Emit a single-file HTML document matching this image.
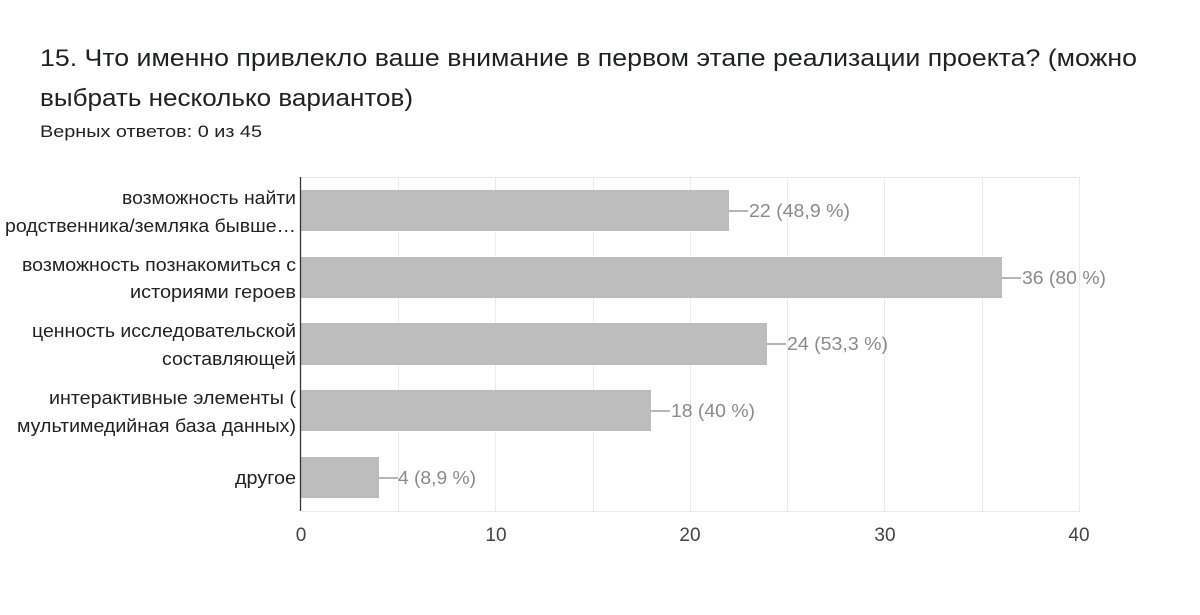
<!DOCTYPE html><html><head><meta charset="utf-8"><style>body{margin:0;background:#fff;width:1200px;height:610px;overflow:hidden;font-family:"Liberation Sans",sans-serif}</style></head><body>
<svg width="1200" height="610" xmlns="http://www.w3.org/2000/svg" font-family="Liberation Sans, sans-serif">
<text x="40" y="66" font-size="24" fill="#202124" textLength="1097" lengthAdjust="spacingAndGlyphs">15. Что именно привлекло ваше внимание в первом этапе реализации проекта? (можно</text>
<text x="40" y="106" font-size="24" fill="#202124" textLength="373" lengthAdjust="spacingAndGlyphs">выбрать несколько вариантов)</text>
<text x="40" y="137" font-size="17" fill="#202124" textLength="222" lengthAdjust="spacingAndGlyphs">Верных ответов: 0 из 45</text>
<g stroke="#ebebeb" stroke-width="1">
<line x1="301" y1="177.5" x2="1080" y2="177.5"/><line x1="301" y1="511.5" x2="1080" y2="511.5"/>
<line x1="398.5" y1="177" x2="398.5" y2="511"/><line x1="495.5" y1="177" x2="495.5" y2="511"/><line x1="593.5" y1="177" x2="593.5" y2="511"/><line x1="690.5" y1="177" x2="690.5" y2="511"/><line x1="787.5" y1="177" x2="787.5" y2="511"/><line x1="884.5" y1="177" x2="884.5" y2="511"/><line x1="982.5" y1="177" x2="982.5" y2="511"/><line x1="1079.5" y1="177" x2="1079.5" y2="511"/>
</g>
<g fill="#bdbdbd">
<rect x="301" y="190" width="428" height="41"/>
<rect x="301" y="257" width="701" height="41"/>
<rect x="301" y="323" width="466" height="42"/>
<rect x="301" y="390" width="350" height="41"/>
<rect x="301" y="457" width="78" height="41"/>
</g>
<line x1="300.5" y1="177" x2="300.5" y2="511" stroke="#333" stroke-width="1.3"/>
<g stroke="#9e9e9e" stroke-width="1.5">
<line x1="729" y1="211" x2="748" y2="211"/><line x1="1002" y1="278" x2="1021" y2="278"/><line x1="767" y1="344" x2="786" y2="344"/><line x1="651" y1="411" x2="670" y2="411"/><line x1="379" y1="478" x2="398" y2="478"/>
</g>
<g font-size="18" fill="#8a8a8a">
<text x="749" y="217" textLength="101" lengthAdjust="spacingAndGlyphs">22 (48,9 %)</text><text x="1022" y="284" textLength="84" lengthAdjust="spacingAndGlyphs">36 (80 %)</text><text x="787" y="350" textLength="101" lengthAdjust="spacingAndGlyphs">24 (53,3 %)</text><text x="671" y="417" textLength="84" lengthAdjust="spacingAndGlyphs">18 (40 %)</text><text x="398" y="484" textLength="78" lengthAdjust="spacingAndGlyphs">4 (8,9 %)</text>
</g>
<g font-size="18" fill="#222">
<text x="122" y="204" textLength="174" lengthAdjust="spacingAndGlyphs">возможность найти</text><text x="5" y="232" textLength="291" lengthAdjust="spacingAndGlyphs">родственника/земляка бывше…</text>
<text x="22" y="271" textLength="274" lengthAdjust="spacingAndGlyphs">возможность познакомиться с</text><text x="130" y="298" textLength="166" lengthAdjust="spacingAndGlyphs">историями героев</text>
<text x="32" y="337" textLength="264" lengthAdjust="spacingAndGlyphs">ценность исследовательской</text><text x="162" y="365" textLength="134" lengthAdjust="spacingAndGlyphs">составляющей</text>
<text x="49" y="404" textLength="247" lengthAdjust="spacingAndGlyphs">интерактивные элементы (</text><text x="17" y="432" textLength="279" lengthAdjust="spacingAndGlyphs">мультимедийная база данных)</text>
<text x="235" y="484" textLength="61" lengthAdjust="spacingAndGlyphs">другое</text>
</g>
<g font-size="19" fill="#444" text-anchor="middle">
<text x="301" y="541">0</text><text x="496" y="541">10</text><text x="690" y="541">20</text><text x="885" y="541">30</text><text x="1079" y="541">40</text>
</g>
</svg></body></html>
